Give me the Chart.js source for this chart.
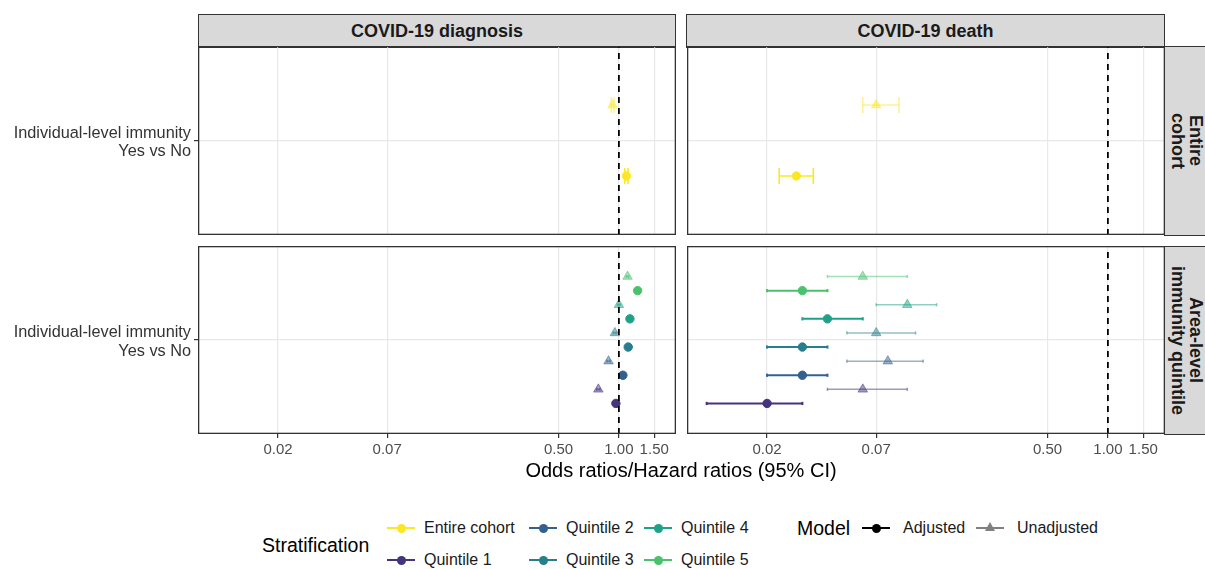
<!DOCTYPE html>
<html><head><meta charset="utf-8">
<script src="https://cdn.jsdelivr.net/npm/chart.js@4.4.1/dist/chart.umd.min.js"></script>
<style>
body{margin:0;width:1205px;height:569px;position:relative;background:#fff;font-family:"Liberation Sans",Arial,sans-serif;overflow:hidden;color:#1a1a1a}
.abs{position:absolute}
canvas{position:absolute}
.strip{position:absolute;background:#d9d9d9;border:1.3px solid #333;box-sizing:border-box;display:flex;align-items:center;justify-content:center;font-weight:bold;font-size:18px;color:#1a1a1a}
.vstrip{writing-mode:vertical-rl;text-align:center;line-height:1.05}
.ltitle{position:absolute;font-size:19.5px;color:#000;transform:translateY(-50%)}
.ltext{position:absolute;font-size:16px;color:#1a1a1a;transform:translateY(-50%)}
.key{position:absolute;width:28px;height:14px;transform:translateY(-50%)}
.key .kl{position:absolute;left:0;right:0;top:6px;height:2px}
.key .kd{position:absolute;left:9.5px;top:2.5px;width:9px;height:9px;border-radius:50%}
.key .kt{position:absolute;left:9px;top:1px;width:0;height:0;border-left:5px solid transparent;border-right:5px solid transparent;border-bottom:9px solid #808080}
</style></head>
<body>
<div class="strip" style="left:198px;top:14px;width:478px;height:34px">COVID-19 diagnosis</div>
<div class="strip" style="left:686px;top:14px;width:479px;height:34px">COVID-19 death</div>
<div class="strip vstrip" style="left:1164px;top:46px;width:45px;height:190px">Entire<br>cohort</div>
<div class="strip vstrip" style="left:1164px;top:246px;width:45px;height:189px">Area-level<br>immunity quintile</div>

<canvas id="c1" width="676" height="189" style="left:0;top:46px"></canvas>
<canvas id="c2" width="478" height="189" style="left:687px;top:46px"></canvas>
<canvas id="c3" width="676" height="218" style="left:0;top:246px"></canvas>
<canvas id="c4" width="478" height="218" style="left:687px;top:246px"></canvas>

<div class="abs" style="left:0;width:1362px;top:470px;text-align:center;font-size:20px;color:#000;transform:translateY(-50%)">Odds ratios/Hazard ratios (95% CI)</div>

<div id="legend"></div>

<script>
// ---------------- data ----------------
const panels = ['COVID-19 diagnosis', 'COVID-19 death'];
const models = ['Adjusted', 'Unadjusted'];
const strata = ['Entire cohort', 'Quintile 1', 'Quintile 2', 'Quintile 3', 'Quintile 4', 'Quintile 5'];
const xTicks = [0.02, 0.07, 0.5, 1.0, 1.5];

// Entire cohort: [Adjusted, Unadjusted]
const diagEntireEst = [1.09, 0.93];
const diagEntireLo  = [1.07, 0.915];
const diagEntireHi  = [1.11, 0.945];
const deathEntireEst = [0.028, 0.070];
const deathEntireLo  = [0.023, 0.060];
const deathEntireHi  = [0.034, 0.091];

// Area-level immunity quintile: Quintile 1..5
const diagAdjEst   = [0.966, 1.047, 1.113, 1.135, 1.24];
const diagAdjLo    = [0.95, 1.03, 1.095, 1.115, 1.22];
const diagAdjHi    = [0.98, 1.065, 1.13, 1.155, 1.26];
const diagUnadjEst = [0.79, 0.888, 0.955, 1.0, 1.105];
const diagUnadjLo  = [0.775, 0.872, 0.94, 0.985, 1.09];
const diagUnadjHi  = [0.805, 0.904, 0.97, 1.015, 1.12];

const deathAdjEst   = [0.02, 0.03, 0.03, 0.04, 0.03];
const deathAdjLo    = [0.01, 0.02, 0.02, 0.03, 0.02];
const deathAdjHi    = [0.03, 0.04, 0.04, 0.06, 0.04];
const deathUnadjEst = [0.06, 0.08, 0.07, 0.10, 0.06];
const deathUnadjLo  = [0.04, 0.05, 0.05, 0.07, 0.04];
const deathUnadjHi  = [0.10, 0.12, 0.11, 0.14, 0.10];

// ---------------- styling ----------------
const stratColors = ['#FDE725', '#46337E', '#33608F', '#277F8E', '#1FA187', '#4AC16D'];
const X_MIN = 0.00798, X_MAX = 1.926;
const Y_MIN = -0.6, Y_MAX = 0.6;
const DODGE = 0.9;
const dodgeY = (i, n) => -DODGE / 2 + (i + 0.5) * DODGE / n;
const yLabel = ['Individual-level immunity', 'Yes vs No'];

Chart.defaults.font.family = "'Liberation Sans', Arial, sans-serif";

function rgba(hex, a) {
  const n = parseInt(hex.slice(1), 16);
  return `rgba(${(n >> 16) & 255},${(n >> 8) & 255},${n & 255},${a})`;
}

function buildEntries(row, panel) {
  const out = [];
  if (row === 0) {
    const est = panel === 0 ? diagEntireEst : deathEntireEst;
    const lo = panel === 0 ? diagEntireLo : deathEntireLo;
    const hi = panel === 0 ? diagEntireHi : deathEntireHi;
    for (let m = 0; m < 2; m++) {
      out.push({est: est[m], lo: lo[m], hi: hi[m], color: stratColors[0], unadj: m === 1, y: dodgeY(m, 2), cap: 8, lw: 1.6});
    }
  } else {
    const ae = panel === 0 ? diagAdjEst : deathAdjEst, al = panel === 0 ? diagAdjLo : deathAdjLo, ah = panel === 0 ? diagAdjHi : deathAdjHi;
    const ue = panel === 0 ? diagUnadjEst : deathUnadjEst, ul = panel === 0 ? diagUnadjLo : deathUnadjLo, uh = panel === 0 ? diagUnadjHi : deathUnadjHi;
    for (let q = 0; q < 5; q++) {
      out.push({est: ae[q], lo: al[q], hi: ah[q], color: stratColors[q + 1], unadj: false, y: dodgeY(2 * q, 10), cap: 1.6, lw: 2});
      out.push({est: ue[q], lo: ul[q], hi: uh[q], color: stratColors[q + 1], unadj: true, y: dodgeY(2 * q + 1, 10), cap: 1.6, lw: 1.5});
    }
  }
  return out;
}

function buildDatasets(row, panel) {
  const ds = [{
    type: 'line', data: [{x: 1, y: Y_MIN}, {x: 1, y: Y_MAX}],
    borderColor: '#000', borderWidth: 1.8, borderDash: [6, 5], pointRadius: 0, order: 0
  }];
  for (const e of buildEntries(row, panel)) {
    const c = e.unadj ? rgba(e.color, 0.5) : e.color;
    ds.push({
      type: 'scatter', data: [{x: e.est, y: e.y}],
      pointStyle: e.unadj ? 'triangle' : 'circle',
      pointRadius: e.unadj ? 5.5 : 4.2,
      backgroundColor: c, borderColor: c, borderWidth: 1, order: 1
    });
    ds.push({
      type: 'line', data: [{x: e.lo, y: e.y}, {x: e.hi, y: e.y}],
      borderColor: c, borderWidth: e.lw,
      pointStyle: 'line', pointRotation: 90, pointRadius: e.cap,
      pointBorderColor: c, pointBorderWidth: e.lw, order: 2
    });
  }
  return ds;
}

const borderPlugin = {
  id: 'panelBorder',
  afterDraw(chart) {
    const a = chart.chartArea, ctx = chart.ctx;
    ctx.save();
    ctx.strokeStyle = '#333';
    ctx.lineWidth = 1.3;
    ctx.strokeRect(a.left + 0.65, a.top + 0.65, a.right - a.left - 1.3, a.bottom - a.top - 1.3);
    ctx.restore();
  }
};

function noPad(s) { s.paddingTop = 0; s.paddingBottom = 0; s.paddingLeft = 0; s.paddingRight = 0; }

function makeChart(id, row, panel) {
  const showY = panel === 0, showX = row === 1;
  new Chart(document.getElementById(id), {
    type: 'scatter',
    data: {datasets: buildDatasets(row, panel)},
    plugins: [borderPlugin],
    options: {
      responsive: false, animation: false, events: [],
      layout: {padding: 0, autoPadding: false},
      plugins: {legend: {display: false}, tooltip: {enabled: false}},
      scales: {
        x: {
          type: 'logarithmic', min: X_MIN, max: X_MAX,
          afterBuildTicks: s => { s.ticks = xTicks.map(v => ({value: v})); },
          afterFit: s => { s.height = showX ? 30 : 0; noPad(s); },
          border: {display: false},
          grid: {color: '#e8e8e8', lineWidth: 1.2, drawTicks: showX, tickLength: 4, tickColor: '#333', tickWidth: 1.2},
          ticks: {display: showX, autoSkip: false, maxRotation: 0, padding: 3, color: '#4d4d4d', font: {size: 15},
                  callback: v => Number(v).toFixed(2)}
        },
        y: {
          type: 'linear', min: Y_MIN, max: Y_MAX,
          afterBuildTicks: s => { s.ticks = [{value: 0}]; },
          afterFit: s => { s.width = showY ? 198 : 0; noPad(s); },
          border: {display: false},
          grid: {color: '#e8e8e8', lineWidth: 1.2, drawTicks: showY, tickLength: 4, tickColor: '#333', tickWidth: 1.2},
          ticks: {display: showY, padding: 3, labelOffset: 2, color: '#333', font: {size: 16.3, lineHeight: 1.12},
                  callback: () => yLabel}
        }
      }
    }
  });
}

makeChart('c1', 0, 0);
makeChart('c2', 0, 1);
makeChart('c3', 1, 0);
makeChart('c4', 1, 1);

// ---------------- legend (HTML) ----------------
const L = document.getElementById('legend');
function add(html) { L.insertAdjacentHTML('beforeend', html); }
add(`<div class="ltitle" style="left:262px;top:545px">Stratification</div>`);
const legPos = [[387, 528], [387, 560], [529, 528], [529, 560], [644, 528], [644, 560]];
strata.forEach((s, i) => {
  const [x, y] = legPos[i];
  const c = stratColors[i];
  add(`<div class="key" style="left:${x}px;top:${y}px"><div class="kl" style="background:${c}"></div><div class="kd" style="background:${c}"></div></div>`);
  add(`<div class="ltext" style="left:${x + 37}px;top:${y}px">${s}</div>`);
});
add(`<div class="ltitle" style="left:797px;top:528px">Model</div>`);
add(`<div class="key" style="left:862px;top:528px"><div class="kl" style="background:#000"></div><div class="kd" style="background:#000"></div></div>`);
add(`<div class="ltext" style="left:903px;top:528px">${models[0]}</div>`);
add(`<div class="key" style="left:976px;top:528px"><div class="kl" style="background:#808080"></div><div class="kt"></div></div>`);
add(`<div class="ltext" style="left:1017px;top:528px">${models[1]}</div>`);
</script>
</body></html>
